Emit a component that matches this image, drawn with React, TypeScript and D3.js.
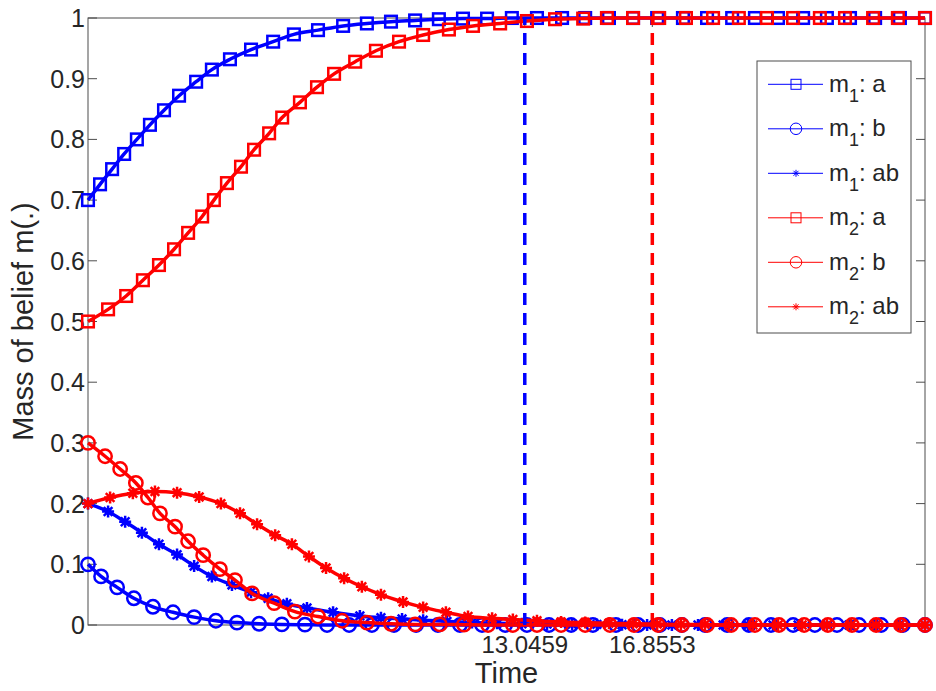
import React from "react";
import * as d3 from "d3";

// m1 (blue), time in seconds
const m1aT = [0, 0.36, 0.72, 1.08, 1.46, 1.85, 2.27, 2.72, 3.23, 3.70, 4.24, 4.87, 5.53, 6.15, 6.87, 7.62, 8.33, 9.05, 9.77, 10.48, 11.20, 11.92, 12.66, 13.41, 14.16, 14.85, 15.56, 16.28, 17.00, 17.77, 18.49, 19.24, 19.92, 20.61, 21.36, 22.07, 22.76, 23.51, 24.25, 25.0];
const m1aV = [0.700, 0.726, 0.751, 0.776, 0.800, 0.824, 0.848, 0.872, 0.895, 0.915, 0.932, 0.948, 0.961, 0.973, 0.980, 0.987, 0.991, 0.994, 0.996, 0.998, 0.999, 0.999, 1, 1, 1, 1, 1, 1, 1, 1, 1, 1, 1, 1, 1, 1, 1, 1, 1, 1];

const m1bT = [0, 0.39, 0.87, 1.37, 1.94, 2.54, 3.17, 3.82, 4.45, 5.11, 5.79, 6.48, 7.14, 7.80, 8.48, 9.14, 9.80, 10.45, 11.11, 11.77, 12.46, 13.11, 13.77, 14.43, 15.08, 15.77, 16.43, 17.08, 17.74, 18.43, 19.09, 19.74, 20.40, 21.06, 21.71, 22.37, 23.03, 23.69, 24.34, 25.0];
const m1bV = [0.100, 0.080, 0.062, 0.044, 0.030, 0.021, 0.013, 0.007, 0.004, 0.002, 0.001, 0.0005, 0, 0, 0, 0, 0, 0, 0, 0, 0, 0, 0, 0, 0, 0, 0, 0, 0, 0, 0, 0, 0, 0, 0, 0, 0, 0, 0, 0];

const m1abT = [0, 0.60, 1.11, 1.61, 2.12, 2.66, 3.17, 3.70, 4.30, 4.87, 5.38, 5.94, 6.54, 7.32, 8.12, 8.75, 9.38, 10.01, 10.72, 11.47, 12.22, 12.96, 13.71, 14.46, 15.20, 15.95, 16.70, 17.44, 18.22, 18.97, 19.71, 20.46, 21.21, 21.98, 22.73, 23.48, 24.22, 25.0];
const m1abV = [0.200, 0.187, 0.170, 0.152, 0.133, 0.116, 0.097, 0.080, 0.066, 0.054, 0.044, 0.035, 0.028, 0.021, 0.015, 0.012, 0.010, 0.008, 0.006, 0.004, 0.003, 0.002, 0.0015, 0.001, 0.001, 0.0005, 0, 0, 0, 0, 0, 0, 0, 0, 0, 0, 0, 0];

// m2 (red)
const m2aT = [0, 0.60, 1.14, 1.64, 2.12, 2.57, 2.99, 3.41, 3.76, 4.15, 4.57, 4.96, 5.41, 5.80, 6.33, 6.84, 7.35, 7.98, 8.60, 9.29, 10.01, 10.78, 11.50, 12.31, 13.11, 13.95, 14.79, 15.50, 16.28, 17.06, 17.86, 18.67, 19.44, 20.28, 21.06, 21.86, 22.61, 23.45, 24.19, 25.0];
const m2aV = [0.500, 0.520, 0.542, 0.568, 0.593, 0.619, 0.646, 0.673, 0.700, 0.728, 0.755, 0.783, 0.810, 0.836, 0.861, 0.886, 0.908, 0.928, 0.946, 0.961, 0.972, 0.981, 0.987, 0.991, 0.995, 0.998, 0.999, 1, 1, 1, 1, 1, 1, 1, 1, 1, 1, 1, 1, 1];

const m2bT = [0, 0.51, 0.96, 1.43, 1.79, 2.15, 2.60, 2.99, 3.44, 3.94, 4.39, 4.90, 5.56, 6.18, 6.87, 7.59, 8.33, 9.05, 9.77, 10.51, 11.23, 11.95, 12.69, 13.41, 14.13, 14.85, 15.59, 16.31, 17.03, 17.74, 18.49, 19.21, 19.92, 20.64, 21.39, 22.10, 22.82, 23.54, 24.28, 25.0];
const m2bV = [0.300, 0.278, 0.257, 0.234, 0.210, 0.184, 0.162, 0.138, 0.115, 0.092, 0.074, 0.052, 0.036, 0.022, 0.014, 0.007, 0.004, 0.002, 0.001, 0.001, 0.0005, 0, 0, 0, 0, 0, 0, 0, 0, 0, 0, 0, 0, 0, 0, 0, 0, 0, 0, 0];

const m2abT = [0, 0.66, 1.34, 2.00, 2.66, 3.32, 3.97, 4.54, 5.05, 5.59, 6.09, 6.60, 7.11, 7.65, 8.18, 8.75, 9.41, 10.01, 10.69, 11.35, 12.07, 12.69, 13.41, 14.13, 14.85, 15.56, 16.28, 17.00, 17.71, 18.43, 19.15, 19.86, 20.61, 21.33, 22.07, 22.79, 23.54, 24.25, 25.0];
const m2abV = [0.200, 0.210, 0.217, 0.220, 0.218, 0.211, 0.200, 0.184, 0.166, 0.148, 0.133, 0.113, 0.094, 0.077, 0.063, 0.050, 0.038, 0.029, 0.021, 0.014, 0.011, 0.009, 0.007, 0.005, 0.004, 0.003, 0.002, 0.0015, 0.001, 0.001, 0, 0, 0, 0, 0, 0, 0, 0, 0];

const xTickValues = [13.0459, 16.8553];
const yTickValues = [0, 0.1, 0.2, 0.3, 0.4, 0.5, 0.6, 0.7, 0.8, 0.9, 1];
const legendNames = [["m", "1", ": a"], ["m", "1", ": b"], ["m", "1", ": ab"], ["m", "2", ": a"], ["m", "2", ": b"], ["m", "2", ": ab"]];

const BLUE = "#0000ff";
const RED = "#ff0000";
const FONT = "'Liberation Sans', Arial, Helvetica, sans-serif";
const TXT = "#262626";
const AX = "#4d4d4d";

const series = [
  { t: m1aT, v: m1aV, color: BLUE, marker: "square" },
  { t: m1bT, v: m1bV, color: BLUE, marker: "circle" },
  { t: m1abT, v: m1abV, color: BLUE, marker: "star" },
  { t: m2aT, v: m2aV, color: RED, marker: "square" },
  { t: m2bT, v: m2bV, color: RED, marker: "circle" },
  { t: m2abT, v: m2abV, color: RED, marker: "star" },
];

const Marker = ({ type, cx, cy, color, sw, s }) => {
  if (type === "square")
    return <rect x={cx - s} y={cy - s} width={2 * s} height={2 * s} fill="none" stroke={color} strokeWidth={sw} />;
  if (type === "circle")
    return <circle cx={cx} cy={cy} r={s * 1.15} fill="none" stroke={color} strokeWidth={sw} />;
  const d = s * 0.72;
  return (
    <path
      d={`M${cx - s},${cy}H${cx + s}M${cx},${cy - s}V${cy + s}M${cx - d},${cy - d}L${cx + d},${cy + d}M${cx - d},${cy + d}L${cx + d},${cy - d}`}
      stroke={color}
      strokeWidth={sw}
      fill="none"
    />
  );
};

export default function App() {
  const x = d3.scaleLinear().domain([0, 25]).range([88, 925]);
  const y = d3.scaleLinear().domain([0, 1]).range([625, 18]);
  const line = d3.line().curve(d3.curveMonotoneX);

  const legX = 757, legY = 61, legW = 154, legH = 272, rowH = 44.5;

  return (
    <svg width={936} height={691} style={{ position: "absolute", left: 0, top: 0, background: "#fff" }} fontFamily={FONT}>
      {/* axes box */}
      <rect x={x(0)} y={y(1)} width={x(25) - x(0)} height={y(0) - y(1)} fill="none" stroke={AX} strokeWidth={1} />
      {yTickValues.map((v) => (
        <g key={v}>
          <line x1={x(0)} x2={x(0) + 9} y1={y(v)} y2={y(v)} stroke={AX} />
          <line x1={x(25)} x2={x(25) - 9} y1={y(v)} y2={y(v)} stroke={AX} />
          <text x={85} y={y(v)} dy="0.36em" textAnchor="end" fontSize={25} fill={TXT}>
            {d3.format("~g")(v)}
          </text>
        </g>
      ))}
      {xTickValues.map((t) => (
        <g key={t}>
          <line x1={x(t)} x2={x(t)} y1={y(0)} y2={y(0) - 9} stroke={AX} />
          <line x1={x(t)} x2={x(t)} y1={y(1)} y2={y(1) + 9} stroke={AX} />
          <text x={x(t)} y={653} textAnchor="middle" fontSize={24} fill={TXT}>
            {t}
          </text>
        </g>
      ))}
      <text x={506.5} y={683} textAnchor="middle" fontSize={29} fill={TXT}>Time</text>
      <text transform={`translate(33,${(y(0) + y(1)) / 2}) rotate(-90)`} textAnchor="middle" fontSize={29} fill={TXT}>
        Mass of belief m(.)
      </text>

      {/* curves */}
      {series.map((s, i) => {
        const pts = s.t.map((t, j) => [x(t), y(s.v[j])] as [number, number]);
        return (
          <g key={i}>
            <path d={line(pts) || ""} fill="none" stroke={s.color} strokeWidth={3.5} />
            {pts.map(([cx, cy], j) => (
              <Marker key={j} type={s.marker} cx={cx} cy={cy} color={s.color} sw={2.5} s={s.marker === "star" ? 6 : 5.8} />
            ))}
          </g>
        );
      })}

      {/* threshold lines */}
      <line x1={x(xTickValues[0])} x2={x(xTickValues[0])} y1={y(0)} y2={y(1)} stroke={BLUE} strokeWidth={3.5} strokeDasharray="12,8" />
      <line x1={x(xTickValues[1])} x2={x(xTickValues[1])} y1={y(0)} y2={y(1)} stroke={RED} strokeWidth={3.5} strokeDasharray="12,8" />

      {/* legend */}
      <rect x={legX} y={legY} width={legW} height={legH} fill="#fff" stroke={AX} strokeWidth={1} />
      {series.map((s, i) => {
        const cy = legY + 23.3 + i * rowH;
        const [a, sub, rest] = legendNames[i];
        return (
          <g key={i}>
            <line x1={768} x2={823} y1={cy} y2={cy} stroke={s.color} strokeWidth={1} />
            <Marker type={s.marker} cx={796} cy={cy} color={s.color} sw={1} s={s.marker === "star" ? 3.5 : 5} />
            <text x={829} y={cy + 7.5} fontSize={24} fill={TXT}>
              {a}
              <tspan dy={10} fontSize={18}>{sub}</tspan>
              <tspan dy={-10}>{rest}</tspan>
            </text>
          </g>
        );
      })}
    </svg>
  );
}
